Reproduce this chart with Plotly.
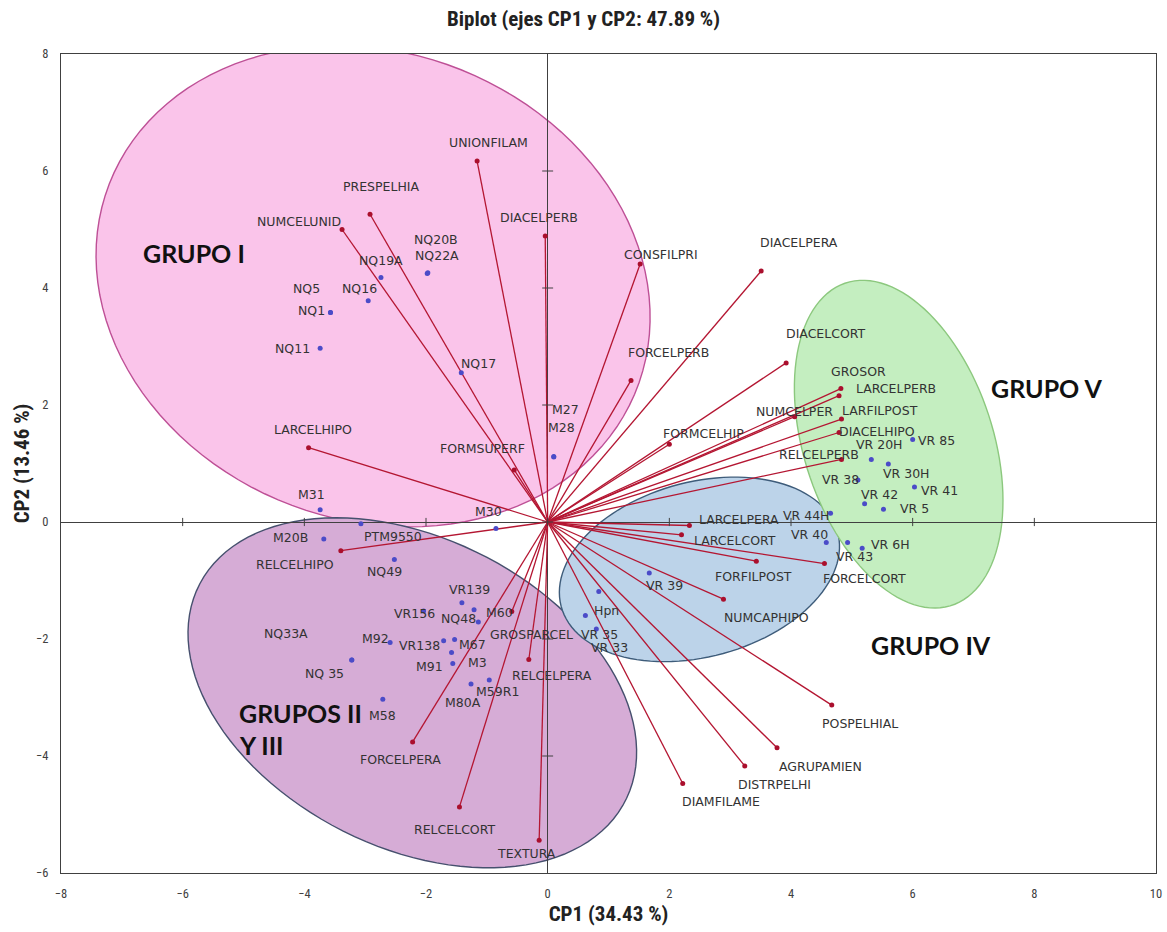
import numpy as np
import plotly.graph_objects as go

# ---- Variables (loadings scaled to the biplot) ----
var_names = ["UNIONFILAM", "PRESPELHIA", "NUMCELUNID", "DIACELPERB", "CONSFILPRI",
             "DIACELPERA", "FORCELPERB", "DIACELCORT", "GROSOR", "LARCELPERB",
             "NUMCELPER", "LARFILPOST", "DIACELHIPO", "RELCELPERB", "FORMCELHIP",
             "LARCELHIPO", "FORMSUPERF", "LARCELPERA", "LARCELCORT", "FORFILPOST",
             "FORCELCORT", "NUMCAPHIPO", "RELCELHIPO", "GROSPARCEL", "RELCELPERA",
             "FORCELPERA", "RELCELCORT", "TEXTURA", "DIAMFILAME", "DISTRPELHI",
             "AGRUPAMIEN", "POSPELHIAL"]
var_x = [-1.16, -2.92, -3.38, -0.04, 1.52, 3.51, 1.37, 3.92, 4.82, 4.79,
         4.06, 4.83, 4.79, 4.83, 2.00, -3.93, -0.55, 2.33, 2.20, 3.43,
         4.55, 2.89, -3.40, -0.59, -0.31, -2.22, -1.45, -0.14, 2.22, 3.24,
         3.77, 4.67]
var_y = [6.17, 5.26, 5.00, 4.89, 4.41, 4.29, 2.42, 2.72, 2.28, 2.16,
         1.80, 1.76, 1.53, 1.07, 1.33, 1.27, 0.89, -0.06, -0.22, -0.67,
         -0.71, -1.32, -0.49, -1.53, -2.35, -3.76, -4.87, -5.44, -4.47, -4.17,
         -3.86, -3.13]

# ---- Observations (scores) ----
obs_names = ["NQ19A", "NQ20B", "NQ22A", "NQ16", "NQ5", "NQ1", "NQ11", "NQ17",
             "M27", "M28", "M31", "M30", "M20B", "PTM9550", "NQ49", "VR139",
             "M60", "NQ48", "VR156", "NQ33A", "M92", "VR138", "M67", "M3",
             "M91", "NQ 35", "M59R1", "M80A", "M58", "Hpn", "VR 35", "VR 33",
             "VR 39", "VR 44H", "VR 40", "VR 43", "VR 6H", "VR 5", "VR 42",
             "VR 41", "VR 38", "VR 30H", "VR 20H", "VR 85"]
obs_x = [-2.74, -1.98, -1.97, -2.95, -3.57, -3.57, -3.74, -1.42,
         0.10, 0.10, -3.74, -0.85, -3.68, -3.07, -2.52, -1.41,
         -1.21, -1.14, -2.04, -3.22, -2.59, -1.71, -1.53, -1.58,
         -1.56, -3.22, -0.96, -1.26, -2.71, 0.62, 0.80, 0.84,
         1.67, 4.65, 4.58, 4.93, 5.17, 5.52, 5.21,
         6.03, 5.10, 5.60, 5.32, 6.00]
obs_y = [4.18, 4.25, 4.26, 3.78, 3.58, 3.58, 2.97, 2.55,
         1.12, 1.11, 0.21, -0.11, -0.29, -0.03, -0.64, -1.38,
         -1.50, -1.71, -1.52, -2.36, -2.06, -2.03, -2.01, -2.23,
         -2.42, -2.36, -2.70, -2.77, -3.03, -1.60, -1.83, -1.19,
         -0.87, 0.15, -0.35, -0.35, -0.45, 0.22, 0.31,
         0.60, 0.72, 0.99, 1.07, 1.41]

x_ticks = [-8, -6, -4, -2, 0, 2, 4, 6, 8, 10]
y_ticks = [-6, -4, -2, 0, 2, 4, 6, 8]

# label offsets in pixels (right, up) relative to each point
var_off = {
    "UNIONFILAM": (11, 19), "PRESPELHIA": (11, 28), "NUMCELUNID": (-43, 8),
    "DIACELPERB": (-6, 18), "CONSFILPRI": (21, 10), "DIACELPERA": (38, 29),
    "FORCELPERB": (37, 28), "DIACELCORT": (40, 29), "GROSOR": (18, 17),
    "LARCELPERB": (57, 7), "NUMCELPER": (0, 5), "LARFILPOST": (39, 9),
    "DIACELHIPO": (38, 1), "RELCELPERB": (-22, 5), "FORMCELHIP": (34, 11),
    "LARCELHIPO": (4, 18), "FORMSUPERF": (-32, 21), "LARCELPERA": (50, 6),
    "LARCELCORT": (53, -6), "FORFILPOST": (-3, -15), "FORCELCORT": (40, -15),
    "NUMCAPHIPO": (43, -18), "RELCELHIPO": (-46, -14), "GROSPARCEL": (20, -23),
    "RELCELPERA": (23, -16), "FORCELPERA": (-12, -18), "RELCELCORT": (-5, -23),
    "TEXTURA": (-13, -13), "DIAMFILAME": (38, -18), "DISTRPELHI": (30, -19),
    "AGRUPAMIEN": (43, -19), "POSPELHIAL": (28, -18),
}
obs_off = {
    "NQ19A": (0, 17), "NQ20B": (9, 34), "NQ22A": (9, 17), "NQ16": (-9, 12),
    "NQ5": (-24, 24), "NQ1": (-19, 2), "NQ11": (-28, 0), "NQ17": (17, 9),
    "M27": (12, 47), "M28": (8, 30), "M31": (-9, 15), "M30": (-7, 17),
    "M20B": (-33, 1), "PTM9550": (32, -13), "NQ49": (-10, -12), "VR139": (8, 13),
    "M60": (25, -3), "NQ48": (-20, 4), "VR156": (-9, -3), "NQ33A": (-66, 27),
    "M92": (-15, 4), "VR138": (-24, -5), "M67": (18, -5), "M3": (26, -10),
    "M91": (-23, -3), "NQ 35": (-27, -13), "M59R1": (8, -12), "M80A": (-8, -18),
    "M58": (0, -16), "Hpn": (21, 5), "VR 35": (3, -5), "VR 33": (11, -56),
    "VR 39": (15, -13), "VR 44H": (-24, -2), "VR 40": (-17, 8), "VR 43": (7, -14),
    "VR 6H": (28, 4), "VR 5": (31, 1), "VR 42": (15, 9), "VR 41": (25, -4),
    "VR 38": (-17, 0), "VR 30H": (18, -9), "VR 20H": (8, 15), "VR 85": (24, -1),
}

# group ellipses: centre, semi-axes, rotation (deg), fill, outline
ellipses = [
    ((-2.87, 4.03), 4.68, 3.97, -25.8, "rgb(250,196,234)", "rgb(190,80,150)"),
    ((-2.225, -2.92), 3.96, 2.62, -29.1, "rgb(214,172,214)", "rgb(70,80,110)"),
    ((2.495, -0.81), 2.36, 1.49, 16.4, "rgb(188,211,233)", "rgb(62,92,122)"),
    ((5.77, 1.33), 2.89, 1.56, -73.0, "rgb(196,238,192)", "rgb(140,200,126)"),
]


def ellipse_path(center, a, b, ang):
    t = np.linspace(0, 2 * np.pi, 120)
    th = np.deg2rad(ang)
    ex = center[0] + a * np.cos(t) * np.cos(th) - b * np.sin(t) * np.sin(th)
    ey = center[1] + a * np.cos(t) * np.sin(th) + b * np.sin(t) * np.cos(th)
    pts = [f"{px:.4f},{py:.4f}" for px, py in zip(ex, ey)]
    return "M" + " L".join(pts) + " Z"


shapes = []
for c, a, b, ang, fill, line in ellipses:
    shapes.append(dict(type="path", path=ellipse_path(c, a, b, ang), xref="x", yref="y",
                       fillcolor=fill, line=dict(color=line, width=1.4), layer="below"))

# tick marks crossing the zero axes
for tx in x_ticks[1:-1]:
    shapes.append(dict(type="line", xref="x", yref="y", x0=tx, x1=tx, y0=-0.07, y1=0.07,
                       line=dict(color="#404040", width=1)))
for ty in y_ticks[1:-1]:
    shapes.append(dict(type="line", xref="x", yref="y", x0=-0.09, x1=0.09, y0=ty, y1=ty,
                       line=dict(color="#404040", width=1)))

fig = go.Figure()

# vectors from the origin to each variable
lx, ly = [], []
for vx, vy in zip(var_x, var_y):
    lx += [0, vx, None]
    ly += [0, vy, None]
fig.add_trace(go.Scatter(x=lx, y=ly, mode="lines",
                         line=dict(color="rgb(180,22,50)", width=1.3),
                         hoverinfo="skip", showlegend=False))
fig.add_trace(go.Scatter(x=var_x, y=var_y, mode="markers", text=var_names,
                         marker=dict(color="rgb(170,15,45)", size=5),
                         showlegend=False))
fig.add_trace(go.Scatter(x=obs_x, y=obs_y, mode="markers", text=obs_names,
                         marker=dict(color="rgb(75,75,200)", size=5),
                         showlegend=False))

label_font = dict(family="DejaVu Sans, Open Sans, sans-serif", size=12.5, color="#333333")
annotations = []
for n, vx, vy in zip(var_names, var_x, var_y):
    dx, dy = var_off[n]
    annotations.append(dict(x=vx, y=vy, text=n, showarrow=False, xshift=dx, yshift=dy,
                            font=label_font))
for n, ox, oy in zip(obs_names, obs_x, obs_y):
    dx, dy = obs_off[n]
    annotations.append(dict(x=ox, y=oy, text=n, showarrow=False, xshift=dx, yshift=dy,
                            font=label_font))

group_font = dict(family="Lato, Open Sans, sans-serif", size=25, color="#111111")
groups = [("<b>GRUPO I</b>", -5.82, 4.6, "center"),
          ("<b>GRUPO V</b>", 8.2, 2.29, "center"),
          ("<b>GRUPO IV</b>", 6.3, -2.1, "center"),
          ("<b>GRUPOS II</b>", -5.1, -3.27, "left"),
          ("<b>Y III</b>", -5.1, -3.82, "left")]
for txt, gx, gy, al in groups:
    annotations.append(dict(x=gx, y=gy, text=txt, showarrow=False, font=group_font,
                            xanchor=al))

title_family = "Roboto Condensed, Liberation Sans Narrow, Roboto, sans-serif"
axis_font = dict(family=title_family, size=12.5, color="#404040")
fig.update_layout(
    width=1167, height=932,
    margin=dict(l=61, r=11, t=54, b=59, autoexpand=False),
    paper_bgcolor="white", plot_bgcolor="white",
    title=dict(text="<b>Biplot (ejes CP1 y CP2: 47.89 %)</b>", x=0.5, xref="container",
               y=0.98, yanchor="middle",
               font=dict(family=title_family, size=21, color="#222222")),
    xaxis=dict(range=[-8, 10], tickvals=x_ticks, showgrid=False, zeroline=True,
               zerolinecolor="#404040", zerolinewidth=1, showline=True, mirror=True,
               linecolor="#404040", linewidth=1, ticks="", tickfont=axis_font,
               automargin=False, ticklabelstandoff=9,
               title=dict(text="<b>CP1 (34.43 %)</b>", standoff=6,
                          font=dict(family=title_family, size=21, color="#222222"))),
    yaxis=dict(range=[-6, 8], tickvals=y_ticks, showgrid=False, zeroline=True,
               zerolinecolor="#404040", zerolinewidth=1, showline=True, mirror=True,
               linecolor="#404040", linewidth=1, ticks="", tickfont=axis_font,
               automargin=False, ticklabelstandoff=9,
               title=dict(text="<b>CP2 (13.46 %)</b>", standoff=0,
                          font=dict(family=title_family, size=21, color="#222222"))),
    shapes=shapes,
    annotations=annotations,
)

fig.write_html("out.html")
